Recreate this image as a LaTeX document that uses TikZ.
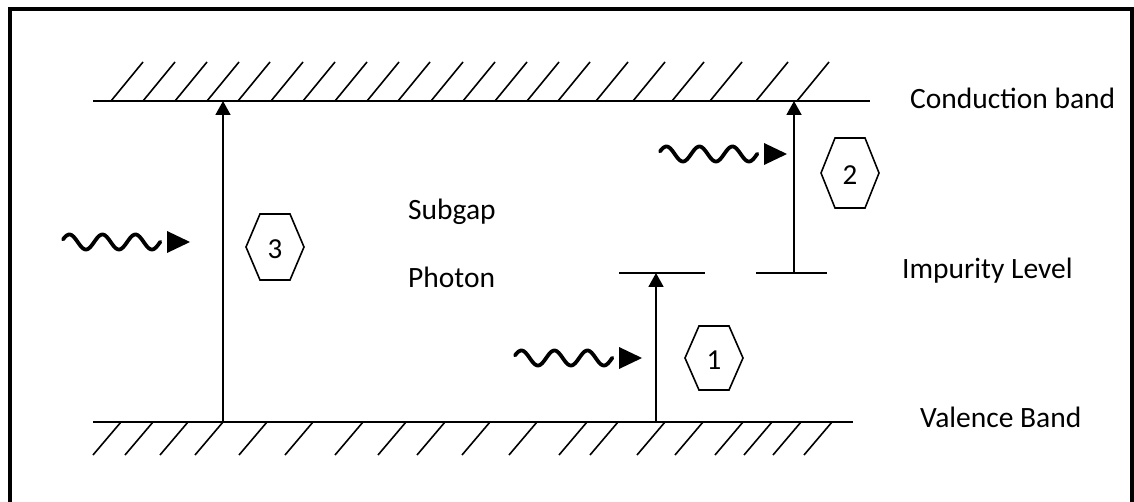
\documentclass[tikz,border=0pt]{standalone}
\usepackage{fontspec}
\setmainfont{Carlito}
\usetikzlibrary{arrows.meta}
\begin{document}
\begin{tikzpicture}[x=1pt,y=-1pt,
  band/.style={line width=2pt},
  hatch/.style={line width=1.6pt},
  lvl/.style={line width=1.8pt},
  trans/.style={line width=1.8pt,-{Triangle[width=15pt,length=14pt]}},
  wave/.style={line width=3.8pt,line cap=round},
  whead/.style={fill=black,draw=none},
  hexnum/.style={inner sep=0pt,font=\fontsize{29}{31}\selectfont},
  hexline/.style={line width=1.6pt,line join=miter},
  lbl/.style={anchor=base west,font=\fontsize{29.5}{32}\selectfont,inner sep=0pt}]
\useasboundingbox (0,0) rectangle (1134,502);
% frame
\draw[line width=4pt] (10,510) -- (10,9) -- (1132,9) -- (1132,510);
% bands
\coordinate (cbL) at (93,101); \coordinate (cbR) at (870,101);
\coordinate (vbL) at (93,422); \coordinate (vbR) at (853,422);
\draw[band] (cbL) -- (cbR);
\draw[band] (vbL) -- (vbR);
\foreach \x in {111,143,175,207,238,271,303,335,367,398,431,463,495,527,558,596,633,672,710,756,797}
  \draw[hatch] (\x,101) -- ++(32,-39);
\foreach \x in {121,153,188,223,267,313,363,406,445,490,537,587,618,665,703,743,772,801,832}
  \draw[hatch] (\x,422) -- ++(-28,33);
% impurity levels
\coordinate (i1L) at (619,273); \coordinate (i1R) at (705,273);
\coordinate (i2L) at (756,273); \coordinate (i2R) at (827,273);
\draw[lvl] (i1L) -- (i1R);
\draw[lvl] (i2L) -- (i2R);
% transitions
\coordinate (t3a) at (223,422); \coordinate (t3b) at (223,101);
\coordinate (t1a) at (656,422); \coordinate (t1b) at (656,273);
\coordinate (t2a) at (794,273); \coordinate (t2b) at (794,101);
\draw[trans] (t3a) -- (t3b);
\draw[trans] (t1a) -- (t1b);
\draw[trans] (t2a) -- (t2b);
% hexagons
\foreach \n/\px/\py/\hh in {3/275/247/33, 1/714/358/32, 2/850/173/35}{
  \node[hexnum] (h\n) at (\px,\py+2) {\n};
  \draw[hexline] (\px-29,\py) -- ++(14,-\hh) -- ++(30,0) -- ++(14,\hh) -- ++(-14,\hh) -- ++(-30,0) -- cycle;
}
% photons
\foreach \w/\sx/\sy in {w3/63/242, w1/515/358, w2/660/154}{
  \draw[wave] plot[domain=0:2.95,samples=90] ({\sx+\x*33},{\sy-7.5*sin(\x*360+20)});
  \coordinate (\w) at (\sx+104,\sy);
  \fill[whead] (\w) ++(0,-11) -- ++(23,11) -- ++(-23,11) -- cycle;
}
% labels
\node[lbl] (cb) at (910,109) {Conduction band};
\node[lbl] (il) at (902,279) {Impurity Level};
\node[lbl] (vb) at (920,427) {Valence Band};
\node[lbl] (sg) at (408,220) {Subgap};
\node[lbl] (ph) at (408,288) {Photon};
\end{tikzpicture}
\end{document}
